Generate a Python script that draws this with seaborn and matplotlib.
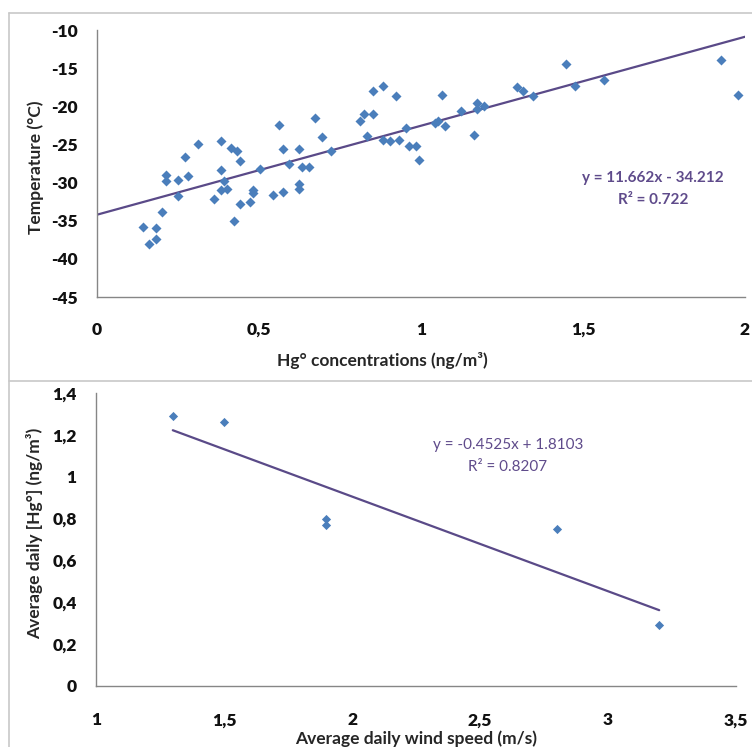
import numpy as np
import pandas as pd
import matplotlib
matplotlib.use("Agg")
import matplotlib.pyplot as plt
from matplotlib.lines import Line2D
import seaborn as sns

# ---- Data: top panel (Hg° vs temperature) ----
hg_conc = [0.141, 0.162, 0.182, 0.182, 0.202, 0.212, 0.212, 0.251, 0.251, 0.272,
           0.282, 0.312, 0.362, 0.382, 0.382, 0.382, 0.392, 0.402, 0.413, 0.422,
           0.432, 0.442, 0.442, 0.472, 0.482, 0.482, 0.503, 0.542, 0.563, 0.573,
           0.573, 0.594, 0.623, 0.623, 0.623, 0.634, 0.653, 0.674, 0.693, 0.723,
           0.813, 0.823, 0.833, 0.853, 0.853, 0.884, 0.884, 0.903, 0.924, 0.933,
           0.954, 0.964, 0.985, 0.994, 1.044, 1.054, 1.065, 1.074, 1.124, 1.164,
           1.173, 1.173, 1.194, 1.295, 1.315, 1.346, 1.446, 1.475, 1.566, 1.926,
           1.977]
temperature = [-35.8, -38.0, -35.9, -37.4, -33.9, -29.0, -29.8, -31.8, -29.6, -26.6,
               -29.2, -24.9, -32.1, -24.5, -28.4, -31.0, -29.8, -30.9, -25.5, -35.0,
               -25.8, -27.2, -32.8, -32.6, -31.0, -31.4, -28.2, -31.6, -22.5, -25.6,
               -31.2, -27.6, -25.6, -30.2, -30.9, -28.0, -28.0, -21.5, -24.0, -25.8,
               -21.9, -21.0, -23.9, -18.0, -21.0, -17.4, -24.4, -24.6, -18.6, -24.4,
               -22.9, -25.2, -25.2, -27.0, -22.2, -21.9, -18.5, -22.6, -20.6, -23.8,
               -19.6, -20.4, -19.9, -17.5, -18.0, -18.6, -14.5, -17.4, -16.6, -13.9,
               -18.5]
top_slope, top_intercept = 11.662, -34.212
top_xticks = [0, 0.5, 1, 1.5, 2]
top_xticklabels = ["0", "0,5", "1", "1,5", "2"]
top_yticks = [-10, -15, -20, -25, -30, -35, -40, -45]
top_yticklabels = ["-10", "-15", "-20", "-25", "-30", "-35", "-40", "-45"]

# ---- Data: bottom panel (wind speed vs Hg°) ----
wind_speed = [1.3, 1.5, 1.9, 1.9, 2.8, 3.2]
daily_hg = [1.29, 1.26, 0.80, 0.77, 0.75, 0.29]
bot_slope, bot_intercept = -0.4525, 1.8103
bot_xticks = [1, 1.5, 2, 2.5, 3, 3.5]
bot_xticklabels = ["1", "1,5", "2", "2,5", "3", "3,5"]
bot_yticks = [0, 0.2, 0.4, 0.6, 0.8, 1.0, 1.2, 1.4]
bot_yticklabels = ["0", "0,2", "0,4", "0,6", "0,8", "1", "1,2", "1,4"]

sns.set_style("white")
plt.rcParams["font.family"] = ["Lato", "DejaVu Sans"]

MARKER_C = "#4A7EBB"
LINE_C = "#5A4A88"
TEXT_C = "#5F4B8B"
SPINE_C = "#868686"

fig = plt.figure(figsize=(7.52, 7.47), dpi=100)
W, H = 752, 747

def ax_rect(l, t, r, b):
    return [l / W, 1 - b / H, (r - l) / W, (b - t) / H]

ax1 = fig.add_axes(ax_rect(97, 30, 745, 297))
ax2 = fig.add_axes(ax_rect(96, 393, 736, 686))

# Top panel
df1 = pd.DataFrame({"x": hg_conc, "y": temperature})
sns.scatterplot(data=df1, x="x", y="y", ax=ax1, marker="D", s=26,
                color=MARKER_C, edgecolor=MARKER_C, linewidth=0, zorder=3)
tx = np.array([top_xticks[0], top_xticks[-1]])
df1l = pd.DataFrame({"x": tx, "y": top_slope * tx + top_intercept})
sns.lineplot(data=df1l, x="x", y="y", ax=ax1, color=LINE_C, linewidth=1.6, zorder=2)
ax1.set_xlim(0, 2)
ax1.set_ylim(-45, -10)
ax1.set_xticks(top_xticks)
ax1.set_xticklabels(top_xticklabels)
ax1.set_yticks(top_yticks)
ax1.set_yticklabels(top_yticklabels)
ax1.tick_params(axis="y", direction="in", length=5, color=SPINE_C, pad=14,
                labelsize=12.5, labelcolor="#111111")
ax1.tick_params(axis="x", direction="out", length=5, color=SPINE_C, pad=13,
                labelsize=12.5, labelcolor="#111111")
for lab in ax1.get_xticklabels() + ax1.get_yticklabels():
    lab.set_fontweight("heavy")
ax1.set_xlabel("Hg° concentrations (ng/m³)", fontsize=12.5, fontweight="bold")
ax1.set_ylabel("Temperature (°C)", fontsize=12.5, fontweight="bold")
ax1.xaxis.set_label_coords(0.441, -0.205)
ax1.yaxis.set_label_coords(-0.082, 0.485)
ax1.text(653, H - 178, "y = 11.662x - 34.212", transform=None, fontsize=11,
         fontweight="bold", color=TEXT_C, ha="center", va="center")
ax1.text(653, H - 200, "R² = 0.722", transform=None, fontsize=11,
         fontweight="bold", color=TEXT_C, ha="center", va="center")

# Bottom panel
df2 = pd.DataFrame({"x": wind_speed, "y": daily_hg})
sns.scatterplot(data=df2, x="x", y="y", ax=ax2, marker="D", s=22,
                color=MARKER_C, edgecolor=MARKER_C, linewidth=0, zorder=3)
bx = np.array([min(wind_speed), max(wind_speed)])
df2l = pd.DataFrame({"x": bx, "y": bot_slope * bx + bot_intercept})
sns.lineplot(data=df2l, x="x", y="y", ax=ax2, color=LINE_C, linewidth=1.6, zorder=2)
ax2.set_xlim(1, 3.5)
ax2.set_ylim(0, 1.4)
ax2.set_xticks(bot_xticks)
ax2.set_xticklabels(bot_xticklabels)
ax2.set_yticks(bot_yticks)
ax2.set_yticklabels(bot_yticklabels)
ax2.tick_params(axis="y", direction="in", length=5, color=SPINE_C, pad=14,
                labelsize=12.5, labelcolor="#111111")
ax2.tick_params(axis="x", direction="in", length=5, color=SPINE_C, pad=19,
                labelsize=12.5, labelcolor="#111111")
for lab in ax2.get_xticklabels() + ax2.get_yticklabels():
    lab.set_fontweight("heavy")
ax2.set_xlabel("Average daily wind speed (m/s)", fontsize=12.5, fontweight="bold")
ax2.set_ylabel("Average daily [Hg°] (ng/m³)", fontsize=12.5, fontweight="bold")
ax2.xaxis.set_label_coords(0.5, -0.152)
ax2.yaxis.set_label_coords(-0.082, 0.52)
ax2.text(508, H - 445, "y = -0.4525x + 1.8103", transform=None, fontsize=11,
         color=TEXT_C, ha="center", va="center")
ax2.text(508, H - 467, "R² = 0.8207", transform=None, fontsize=11,
         color=TEXT_C, ha="center", va="center")

for ax in (ax1, ax2):
    for s in ("top", "right"):
        ax.spines[s].set_visible(False)
    for s in ("left", "bottom"):
        ax.spines[s].set_color(SPINE_C)
        ax.spines[s].set_linewidth(1.0)

# chart frame lines
frame_c = "#C8C8C8"
fig.add_artist(Line2D([9 / W, 9 / W], [0, 1 - 13 / H], color=frame_c, lw=1.2))
fig.add_artist(Line2D([9 / W, 1], [1 - 13 / H, 1 - 13 / H], color=frame_c, lw=1.2))
fig.add_artist(Line2D([9 / W, 1], [1 - 381 / H, 1 - 381 / H], color=frame_c, lw=1.2))

fig.savefig("out.png", dpi=100, facecolor="white")
